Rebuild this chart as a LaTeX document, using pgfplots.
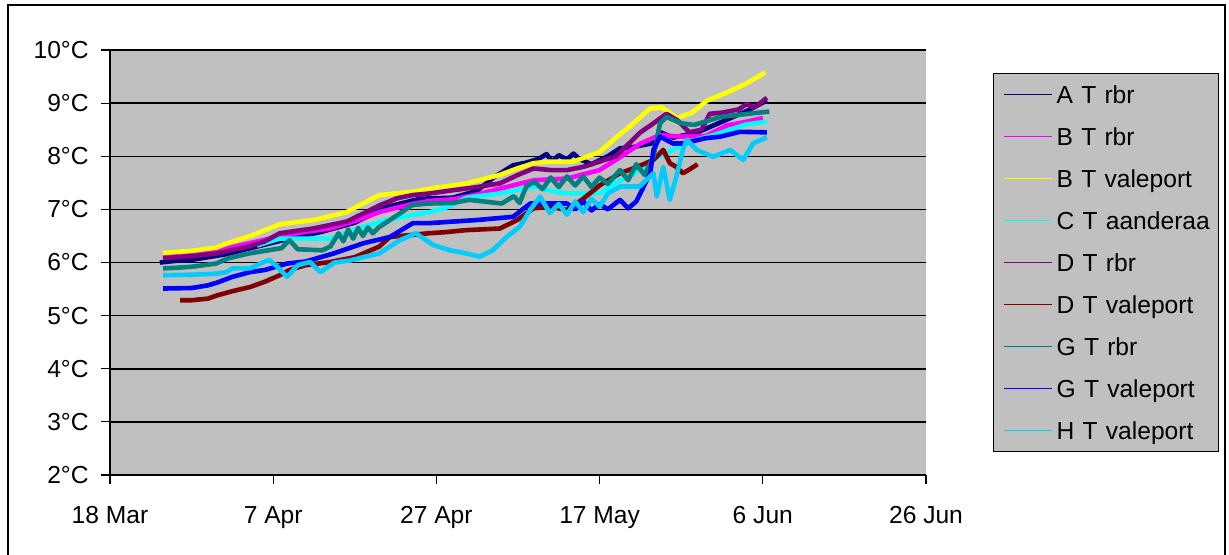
\documentclass[border=0pt]{standalone}
\usepackage{pgfplots}
\pgfplotsset{compat=1.18}
\usepackage{fontspec}
\setmainfont{Liberation Sans}
\definecolor{bg}{HTML}{C0C0C0}
\definecolor{cA}{HTML}{000080}
\definecolor{cB}{HTML}{FF00FF}
\definecolor{cBv}{HTML}{FFFF00}
\definecolor{cC}{HTML}{00FFFF}
\definecolor{cD}{HTML}{800080}
\definecolor{cDv}{HTML}{800000}
\definecolor{cG}{HTML}{008080}
\definecolor{cGv}{HTML}{0000FF}
\definecolor{cH}{HTML}{00CCFF}
\begin{document}
\fontsize{12.3}{14}\selectfont
\begin{tikzpicture}
\useasboundingbox (0pt,0pt) rectangle (614.5pt,277pt);
\draw[line width=1pt] (4pt,-5pt) -- (4pt,274.5pt) -- (612.5pt,274.5pt) -- (612.5pt,-5pt);
\begin{axis}[
  at={(55pt,39.5pt)}, anchor=south west,
  scale only axis, width=408pt, height=212.5pt,
  xmin=0, xmax=100, ymin=2, ymax=10,
  axis x line*=bottom, axis y line*=left,
  axis line style={black, line width=0.6pt},
  axis background/.style={fill=bg},
  xtick={0,20,40,60,80,100},
  xticklabels={18 Mar,7 Apr,27 Apr,17 May,6 Jun,26 Jun},
  ytick={2,3,4,5,6,7,8,9,10},
  yticklabels={2°C,3°C,4°C,5°C,6°C,7°C,8°C,9°C,10°C},
  tick align=outside, major tick length=4.5pt,
  tick style={black, line width=0.6pt},
  ymajorgrids, major grid style={black, line width=0.75pt},
  yticklabel style={anchor=east, inner sep=0pt, xshift=-6pt},
  xticklabel style={anchor=north, inner sep=0pt, yshift=-11pt},
  legend style={at={(1.0821,0.9459)}, anchor=north west, fill=bg, draw=black, line width=0.6pt,
    inner xsep=0pt, inner ysep=0pt, row sep=0pt,
    nodes={inner xsep=2pt, inner ysep=0pt, text width=79pt, text height=14.8pt, text depth=6.2pt}},
  legend cell align=left,
  legend image code/.code={\path (0pt,0pt); \draw[#1, line width=0.8pt] (4pt,0pt) -- (28pt,0pt);},
  every axis plot/.append style={line width=2.3pt, line join=round},
]
% A T rbr
\addplot[cA] coordinates {(6.1,6.00) (8,6.03) (10,6.05) (14,6.15) (18,6.30) (22,6.45) (26,6.58) (30,6.75) (34,7.05) (38,7.20) (42,7.22) (45,7.35) (47,7.60) (49.4,7.83) (51,7.88) (52.5,7.95) (53.5,8.04) (54.2,7.90) (55,8.02) (56,7.94) (56.8,8.05) (57.5,7.95) (59,7.85) (61,8.00) (62.5,8.15) (64,8.17) (66.6,8.25) (67.5,8.45) (69,8.35) (72,8.45) (75,8.65) (78,8.85) (80.5,9.05)};
\addlegendentry{A T rbr}
% B T rbr
\addplot[cB] coordinates {(6.5,6.14) (10,6.16) (13,6.22) (17,6.36) (21,6.50) (24,6.58) (27,6.64) (31,6.83) (33,6.95) (37,7.10) (39.2,7.16) (42,7.19) (45,7.28) (48,7.40) (52,7.55) (56,7.58) (60,7.74) (62.5,7.98) (65,8.24) (67.4,8.40) (70,8.37) (73,8.38) (75.6,8.58) (78,8.65) (80,8.72)};
\addlegendentry{B T rbr}
% B T valeport
\addplot[cBv] coordinates {(6.5,6.18) (10,6.22) (13,6.28) (14.7,6.38) (17.2,6.50) (20.8,6.72) (25,6.80) (29,6.95) (31,7.11) (33,7.27) (37,7.33) (39.6,7.40) (43.7,7.49) (47.8,7.65) (49.9,7.77) (51.9,7.87) (53.9,7.90) (56.8,7.90) (58.4,7.99) (60,8.08) (62,8.35) (64,8.60) (66.2,8.90) (67.6,8.92) (69.5,8.72) (71.3,8.82) (73.2,9.05) (75.6,9.20) (78.1,9.38) (80.3,9.58)};
\addlegendentry{B T valeport}
% C T aanderaa
\addplot[cC] coordinates {(18,6.32) (20.8,6.45) (24,6.45) (27,6.45) (29,6.55) (31,6.67) (34,6.80) (37,6.89) (39.2,6.95) (41,7.02) (43.7,7.22) (47.8,7.30) (52,7.43) (54,7.35) (56,7.30) (60,7.30) (62,7.50) (64,7.65) (66,7.90) (68,8.05) (70,8.20) (72,8.32) (74,8.40) (76,8.50) (78,8.60) (80.5,8.65)};
\addlegendentry{C T aanderaa}
% D T rbr
\addplot[cD] coordinates {(6.5,6.08) (10,6.12) (13,6.17) (17,6.30) (19,6.40) (20.8,6.55) (24.9,6.64) (29,6.77) (31,6.92) (33.1,7.08) (35.2,7.21) (37.1,7.27) (39.2,7.30) (42,7.36) (45,7.42) (47.8,7.49) (50,7.65) (51.9,7.77) (54,7.74) (56,7.74) (58,7.80) (60,7.90) (62,8.00) (63,8.15) (65,8.45) (66.6,8.62) (68.2,8.80) (69.5,8.68) (71,8.45) (72.5,8.50) (73.5,8.80) (75,8.82) (77,8.88) (78,8.98) (79,8.92) (80.5,9.10)};
\addlegendentry{D T rbr}
% D T valeport
\addplot[cDv] coordinates {(8.6,5.29) (10,5.29) (12,5.32) (13.1,5.38) (15,5.46) (17.2,5.54) (19,5.64) (20.8,5.76) (22,5.86) (24,5.95) (27,6.01) (30,6.10) (33,6.30) (34.3,6.48) (37,6.52) (39,6.55) (41,6.57) (43.7,6.61) (47.8,6.64) (49.9,6.80) (51.9,7.02) (53.9,7.05) (56,6.99) (58,7.20) (60,7.45) (62.5,7.68) (64.6,7.80) (66.6,7.93) (67.8,8.12) (68.6,7.87) (69.4,7.80) (70.2,7.68) (71,7.75) (72,7.85)};
\addlegendentry{D T valeport}
% G T rbr
\addplot[cG] coordinates {(6.5,5.89) (8,5.90) (10,5.92) (13,5.98) (14.5,6.08) (17,6.17) (21,6.27) (22,6.42) (23,6.25) (26,6.23) (27,6.30) (28,6.55) (28.6,6.40) (29.2,6.62) (29.8,6.45) (30.4,6.65) (31,6.50) (31.6,6.66) (32.2,6.55) (33,6.67) (35.5,6.92) (37,7.08) (39,7.11) (42,7.12) (44,7.18) (48,7.11) (49.5,7.25) (50.2,7.12) (51,7.43) (52,7.52) (53,7.38) (54,7.60) (55,7.42) (56,7.62) (57,7.45) (58,7.62) (59,7.42) (60,7.60) (61,7.48) (62.5,7.74) (63.5,7.55) (64.5,7.85) (65.5,7.65) (66.6,7.99) (67.4,8.62) (68.2,8.74) (70,8.62) (71.6,8.59) (74.8,8.74) (78.8,8.81) (80.8,8.84)};
\addlegendentry{G T rbr}
% G T valeport
\addplot[cGv] coordinates {(6.5,5.51) (10,5.52) (12,5.57) (13.1,5.62) (15,5.73) (17.2,5.82) (19,5.86) (21.7,5.98) (24,6.02) (27.4,6.17) (31,6.36) (34.3,6.48) (37.1,6.74) (39,6.74) (41,6.76) (45,6.80) (49.4,6.86) (51.5,7.11) (56,7.11) (57,7.00) (58,7.15) (59,6.98) (60,7.10) (61,7.00) (62.5,7.18) (63.5,7.02) (64.5,7.15) (66.2,7.68) (66.6,8.12) (67.4,8.37) (69,8.24) (70.2,8.24) (73,8.34) (74.8,8.37) (77.2,8.46) (80.5,8.45)};
\addlegendentry{G T valeport}
% H T valeport
\addplot[cH] coordinates {(6.5,5.76) (10,5.77) (13.1,5.79) (14.3,5.82) (15,5.89) (17.2,5.89) (18,5.95) (19.5,6.05) (20.5,5.92) (21.7,5.73) (23,5.95) (24.5,6.01) (25.8,5.82) (27.5,6.00) (29.5,6.04) (31,6.10) (33,6.17) (35.5,6.42) (37.5,6.55) (39.6,6.33) (41.7,6.23) (43.7,6.17) (45.3,6.11) (46.9,6.23) (48.6,6.48) (50.2,6.67) (51.5,6.99) (52.7,7.24) (53.9,6.93) (55,7.10) (56,6.90) (57,7.15) (58,6.95) (59,7.20) (60,7.05) (61,7.30) (62.5,7.43) (64.9,7.43) (66.6,7.68) (67,7.24) (67.8,7.80) (68.6,7.18) (69.4,7.61) (70.2,8.12) (70.7,8.31) (71.9,8.12) (73.9,7.99) (76,8.12) (77.6,7.93) (78.8,8.24) (80.5,8.36)};
\addlegendentry{H T valeport}
\end{axis}
\end{tikzpicture}
\end{document}
